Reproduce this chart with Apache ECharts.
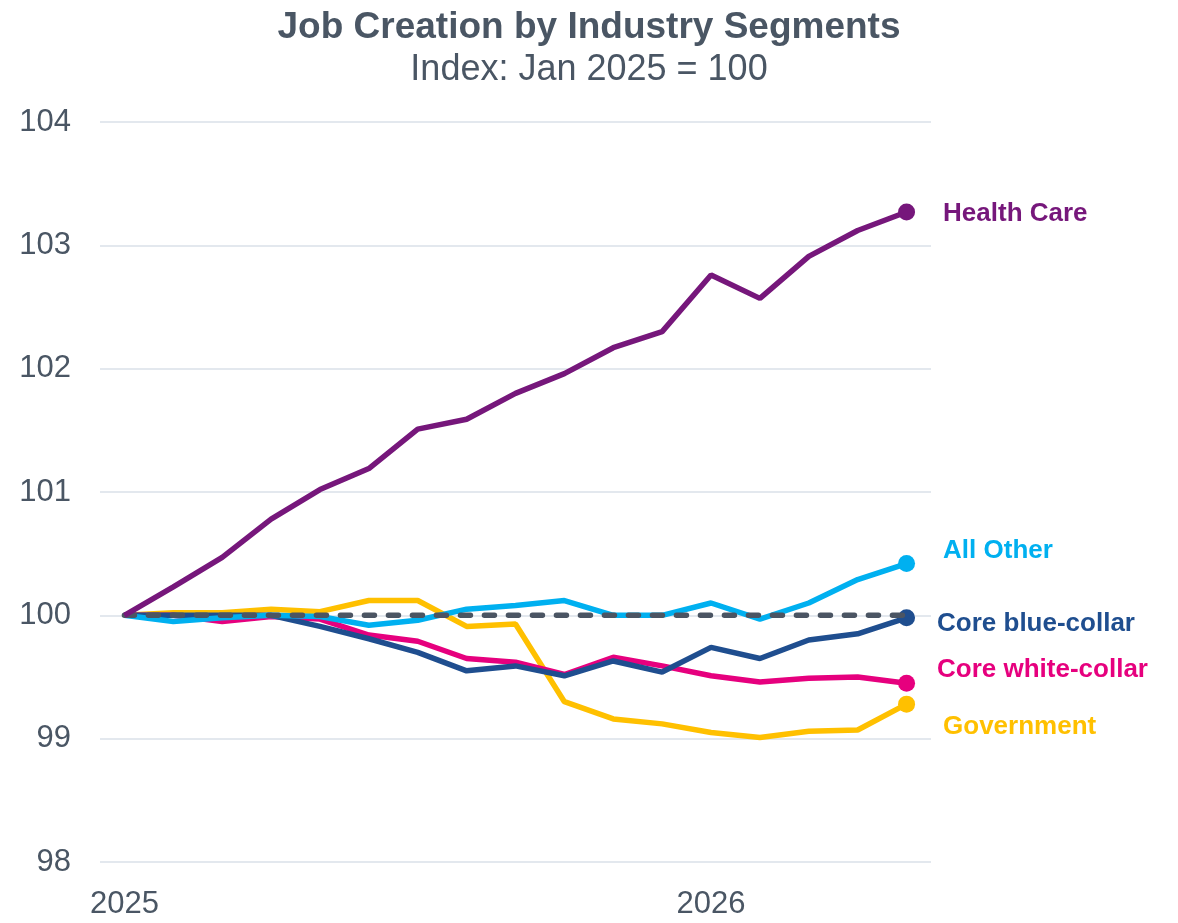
<!DOCTYPE html>
<html>
<head>
<meta charset="utf-8">
<script src="https://cdn.jsdelivr.net/npm/echarts@6/dist/echarts.min.js"></script>
<style>
  html, body { margin: 0; padding: 0; background: #fff; }
  #chart { width: 1178px; height: 923px; }
</style>
</head>
<body>
<div id="chart"></div>
<script>
// months Jan 2025 .. May 2026
const months = [
  "2025-01", "2025-02", "2025-03", "2025-04", "2025-05", "2025-06",
  "2025-07", "2025-08", "2025-09", "2025-10", "2025-11", "2025-12",
  "2026-01", "2026-02", "2026-03", "2026-04", "2026-05",
];

const healthCare = [100, 100.23, 100.47, 100.78, 101.02, 101.19, 101.51, 101.59, 101.8,
  101.96, 102.17, 102.3, 102.76, 102.57, 102.91, 103.12, 103.27];
const allOther = [100, 99.95, 99.98, 100.0, 99.99, 99.92, 99.96, 100.05, 100.08,
  100.12, 100.0, 100.0, 100.1, 99.97, 100.1, 100.29, 100.42];
const coreBlue = [100, 100.0, 100.0, 100.0, 99.91, 99.81, 99.7, 99.55, 99.59,
  99.51, 99.63, 99.54, 99.74, 99.65, 99.8, 99.85, 99.98];
const coreWhite = [100, 100.0, 99.95, 99.99, 99.97, 99.84, 99.79, 99.65, 99.62,
  99.52, 99.66, 99.59, 99.51, 99.46, 99.49, 99.5, 99.45];
const government = [100, 100.02, 100.02, 100.05, 100.03, 100.12, 100.12, 99.91, 99.93,
  99.3, 99.16, 99.12, 99.05, 99.01, 99.06, 99.07, 99.28];
const baseline = months.map(() => 100);

const yTicks = { min: 98, max: 104, step: 1 };

const textColor = "#4a5664";
const font = "Liberation Sans, Arial, sans-serif";

const chart = echarts.init(document.getElementById("chart"));

// 末端圆点 + 标签
function withEndLabel(values, color, offset) {
  const last = values.length - 1;
  return values.map((v, i) => {
    if (i !== last) return v;
    return {
      value: v,
      symbol: "circle",
      symbolSize: 17,
      label: {
        show: true,
        position: "right",
        distance: 28,
        offset: offset,
        formatter: "{a}",
        color: color,
        fontSize: 26,
        fontWeight: "bold",
        fontFamily: font,
      },
    };
  });
}

function lineSeries(name, values, color, offset, z) {
  return {
    name: name,
    type: "line",
    data: withEndLabel(values, color, offset),
    symbol: "none",
    z: z,
    itemStyle: { color: color },
    lineStyle: { color: color, width: 5.5 },
    emphasis: { disabled: true },
    animation: false,
  };
}

const option = {
  backgroundColor: "#fff",
  title: [
    {
      text: "Job Creation by Industry Segments",
      left: 584,
      top: 4,
      textAlign: "center",
      textStyle: {
        color: textColor,
        fontSize: 37,
        fontWeight: "bold",
        fontFamily: font,
      },
    },
    {
      text: "Index: Jan 2025 = 100",
      left: 584,
      top: 47,
      textAlign: "center",
      textStyle: {
        color: textColor,
        fontSize: 36,
        fontWeight: "normal",
        fontFamily: font,
      },
    },
  ],
  grid: {
    left: 100,
    right: 247,
    top: 122,
    bottom: 61,
  },
  xAxis: {
    type: "category",
    data: months,
    boundaryGap: true,
    axisLine: { show: false },
    axisTick: { show: false },
    axisLabel: {
      interval: 0,
      margin: 27,
      color: textColor,
      fontSize: 31,
      fontFamily: font,
      formatter: (v) => (v.endsWith("-01") ? v.slice(0, 4) : ""),
    },
  },
  yAxis: {
    type: "value",
    min: yTicks.min,
    max: yTicks.max,
    interval: yTicks.step,
    axisLine: { show: false },
    axisTick: { show: false },
    axisLabel: {
      margin: 29,
      color: textColor,
      fontSize: 31,
      fontFamily: font,
    },
    splitLine: { lineStyle: { color: "#e3e8ee", width: 2 } },
  },
  series: [
    lineSeries("Health Care", healthCare, "#76177b", [0, 2], 5),
    lineSeries("Government", government, "#ffc000", [0, 23], 3),
    lineSeries("Core white-collar", coreWhite, "#e6007e", [-6, -13], 3),
    lineSeries("Core blue-collar", coreBlue, "#1f4e8f", [-6, 6], 3),
    lineSeries("All Other", allOther, "#00b0f0", [0, -13], 3),
    {
      name: "Baseline",
      type: "line",
      data: baseline,
      symbol: "none",
      z: 4,
      lineStyle: { color: "#4b5563", width: 5.5, type: [10, 14], cap: "round" },
      emphasis: { disabled: true },
      animation: false,
    },
  ],
};

chart.setOption(option);
</script>
</body>
</html>
